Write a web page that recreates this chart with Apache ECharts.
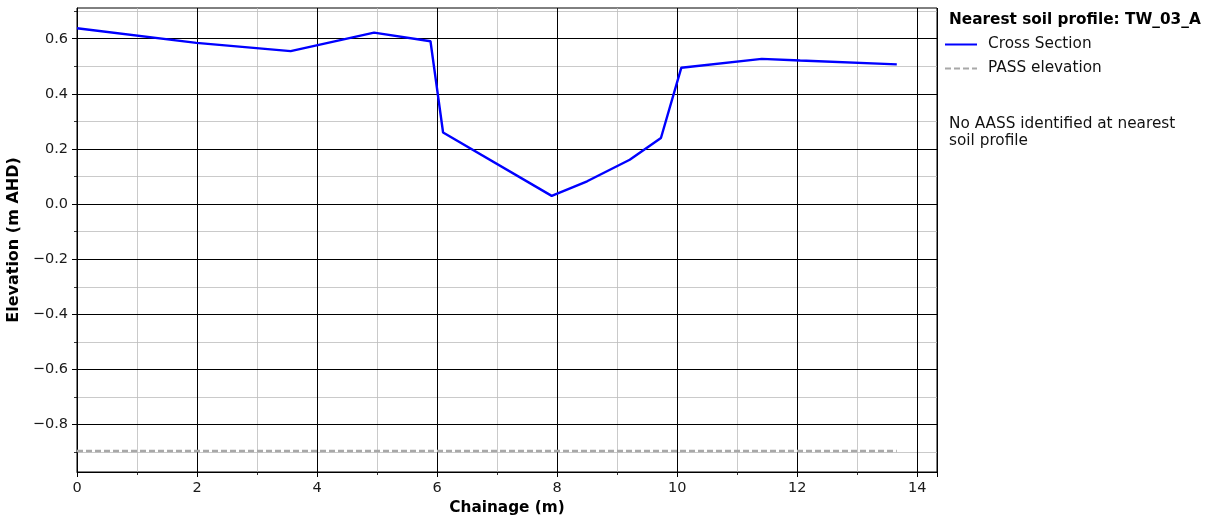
<!DOCTYPE html>
<html>
<head>
<meta charset="utf-8">
<style>
  html, body { margin: 0; padding: 0; background: #fff; }
  #chart { width: 1216px; height: 522px; }
</style>
<script src="https://cdn.jsdelivr.net/npm/echarts@6/dist/echarts.min.js"></script>
</head>
<body>
<div id="chart"></div>
<script>
// cross section survey
var chainage = [0, 1.99, 3.56, 4.95, 5.89, 6.10, 7.91, 8.50, 9.21, 9.73, 10.07, 11.41, 12.05, 13.66];
var elevation = [0.638, 0.585, 0.555, 0.622, 0.591, 0.260, 0.030, 0.083, 0.161, 0.240, 0.495, 0.527, 0.521, 0.507];

// PASS elevation line
var passChainage = [0, 13.66];
var passElevation = [-0.895, -0.895];

// ticks
var yTicks = [-0.8, -0.6, -0.4, -0.2, 0.0, 0.2, 0.4, 0.6];
var yMinorTicks = [-0.9, -0.7, -0.5, -0.3, -0.1, 0.1, 0.3, 0.5, 0.7];
var xRange = [0, 14.33];
var yRange = [-0.9715, 0.7115];

var font = 'DejaVu Sans';

function pairs(xs, ys) {
  return xs.map(function (x, i) { return [x, ys[i]]; });
}

var chartDom = document.getElementById('chart');
var myChart = echarts.init(chartDom, null, { renderer: 'canvas', devicePixelRatio: 1 });

var option = {
  animation: false,
  textStyle: { fontFamily: font },
  grid: {
    left: 77, top: 8, right: 279, bottom: 50,
    containLabel: false, outerBoundsMode: 'none',
    show: true, borderColor: '#000', borderWidth: 1, backgroundColor: 'transparent'
  },
  title: {
    text: 'Nearest soil profile: TW_03_A',
    left: 944, top: 13,
    padding: [0, 0, 0, 5],
    textStyle: { fontFamily: font, fontSize: 15.3, fontWeight: 'bold', color: '#000' }
  },
  legend: {
    orient: 'vertical',
    left: 944, top: 37,
    padding: 0,
    itemWidth: 32, itemHeight: 14, itemGap: 9,
    selectedMode: false,
    itemStyle: { opacity: 0 },
    data: ['Cross Section', 'PASS elevation'],
    textStyle: { fontFamily: font, fontSize: 15.3, color: '#111', padding: [0, 0, 0, 6] }
  },
  graphic: [{
    type: 'text',
    left: 949, top: 116,
    style: {
      text: 'No AASS identified at nearest\nsoil profile',
      font: '15.3px "DejaVu Sans"',
      fill: '#111',
      lineHeight: 17
    }
  }],
  xAxis: [{
    type: 'value', min: xRange[0], max: xRange[1], interval: 2, position: 'bottom',
    name: 'Chainage (m)', nameLocation: 'middle', nameGap: 28,
    nameTextStyle: { fontFamily: font, fontSize: 15.3, fontWeight: 'bold', color: '#000' },
    axisLine: { show: true, onZero: false, lineStyle: { color: '#000', width: 1 } },
    axisTick: { show: true, length: 5, lineStyle: { color: '#000', width: 1 } },
    minorTick: { show: true, splitNumber: 2, length: 3, lineStyle: { color: '#000', width: 0.8 } },
    axisLabel: { fontFamily: font, fontSize: 14.5, color: '#1a1a1a', margin: 9, showMaxLabel: false },
    splitLine: { show: true, lineStyle: { color: '#000', width: 1 } },
    minorSplitLine: { show: true, lineStyle: { color: '#bdbdbd', width: 0.8 } }
  }],
  yAxis: [{
    // minor grid
    type: 'value', min: yRange[0], max: yRange[1], z: 0, position: 'left',
    axisLine: { show: false },
    axisLabel: { show: false, customValues: yMinorTicks },
    axisTick: { show: true, length: 3, lineStyle: { color: '#000', width: 0.8 }, customValues: yMinorTicks },
    splitLine: { show: true, lineStyle: { color: '#bdbdbd', width: 0.8 } }
  }, {
    type: 'value', min: yRange[0], max: yRange[1], z: 1, position: 'left',
    name: 'Elevation (m AHD)', nameLocation: 'middle', nameGap: 47,
    nameTextStyle: { fontFamily: font, fontSize: 16, fontWeight: 'bold', color: '#000' },
    axisLine: { show: true, onZero: false, lineStyle: { color: '#000', width: 1 } },
    axisTick: { show: true, length: 5, lineStyle: { color: '#000', width: 1 }, customValues: yTicks },
    axisLabel: {
      fontFamily: font, fontSize: 14.5, color: '#1a1a1a', margin: 9, customValues: yTicks,
      formatter: function (v) { return v.toFixed(1).replace('-', '\u2212'); }
    },
    splitLine: { show: true, lineStyle: { color: '#000', width: 1 } }
  }],
  series: [{
    name: 'Cross Section',
    type: 'line',
    xAxisIndex: 0, yAxisIndex: 1,
    symbol: 'none',
    clip: true,
    color: '#0000ff',
    lineStyle: { color: '#0000ff', width: 2.4 },
    data: pairs(chainage, elevation)
  }, {
    name: 'PASS elevation',
    type: 'line',
    xAxisIndex: 0, yAxisIndex: 1,
    symbol: 'none',
    color: '#a8a8a8',
    lineStyle: { color: '#a8a8a8', width: 2.5, type: [6, 3] },
    data: pairs(passChainage, passElevation)
  }]
};

option && myChart.setOption(option);
</script>
</body>
</html>
